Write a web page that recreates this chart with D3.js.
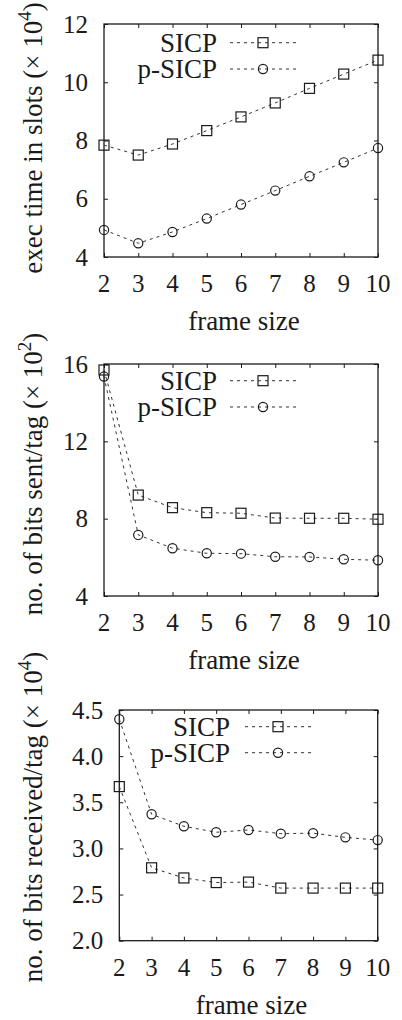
<!DOCTYPE html>
<html>
<head>
<meta charset="utf-8">
<script src="https://cdn.jsdelivr.net/npm/d3@7"></script>
</head>
<body style="margin:0">
<svg id="fig" width="402" height="1020"></svg>
<script>
// Frame sizes on the x axis (shared by all three panels)
const frameSizes = [2, 3, 4, 5, 6, 7, 8, 9, 10];
const seriesNames = ["SICP", "p-SICP"];

// Execution time in slots (x10^4)
const execSICP  = [7.84, 7.50, 7.88, 8.34, 8.81, 9.29, 9.79, 10.28, 10.76];
const execPSICP = [4.93, 4.47, 4.86, 5.32, 5.80, 6.28, 6.77, 7.25, 7.74];
const execTicks = [4, 6, 8, 10, 12];

// Bits sent per tag (x10^2)
const sentSICP  = [15.69, 9.22, 8.57, 8.31, 8.28, 8.03, 8.02, 8.02, 7.97];
const sentPSICP = [15.35, 7.16, 6.47, 6.21, 6.19, 6.03, 6.02, 5.90, 5.85];
const sentTicks = [4, 8, 12, 16];

// Bits received per tag (x10^4)
const recvSICP  = [3.67, 2.79, 2.68, 2.63, 2.635, 2.57, 2.57, 2.57, 2.57];
const recvPSICP = [4.40, 3.37, 3.24, 3.175, 3.20, 3.16, 3.165, 3.12, 3.09];
const recvTicks = [2.0, 2.5, 3.0, 3.5, 4.0, 4.5];

const svg = d3.select("#fig");

const panels = [
  { box: { l: 104, r: 378, t: 24, b: 257 }, ticks: execTicks, fmt: d3.format("d"),
    series: [execSICP, execPSICP], label: "exec time in slots ", exp: "4",
    labelY: 138, legend: { textX: 217, lineX0: 230, lineX1: 297, markX: 263, y0: 42.7, y1: 69 } },
  { box: { l: 104, r: 378, t: 364, b: 596 }, ticks: sentTicks, fmt: d3.format("d"),
    series: [sentSICP, sentPSICP], label: "no. of bits sent/tag ", exp: "2",
    labelY: 474, legend: { textX: 217, lineX0: 230, lineX1: 297, markX: 263, y0: 380.7, y1: 407 } },
  { box: { l: 119.3, r: 377.7, t: 710, b: 940.7 }, ticks: recvTicks, fmt: d3.format(".1f"),
    series: [recvSICP, recvPSICP], label: "no. of bits received/tag ", exp: "4",
    labelY: 817, legend: { textX: 230, lineX0: 245, lineX1: 312, markX: 278, y0: 726.7, y1: 752.7 } }
];

const ink = "#1a1a1a";
const lineInk = "#333";

function drawMarker(g, kind, x, y) {
  if (kind === 0) {
    g.append("rect").attr("x", x - 5).attr("y", y - 5).attr("width", 10).attr("height", 10)
      .attr("fill", "none").attr("stroke", ink).attr("stroke-width", 1.2);
  } else {
    g.append("circle").attr("cx", x).attr("cy", y).attr("r", 4.6)
      .attr("fill", "none").attr("stroke", ink).attr("stroke-width", 1.2);
  }
}

// serif text helper
function label(sel, size) {
  return sel.attr("font-family", "Liberation Serif")
    .style("font-family", `"Liberation Serif"`)
    .attr("font-size", size).attr("fill", ink);
}

panels.forEach(p => {
  const { l, r, t, b } = p.box;
  const x = d3.scaleLinear().domain([2, 10]).range([l, r]);
  const y = d3.scaleLinear().domain(d3.extent(p.ticks)).range([b, t]);
  const g = svg.append("g");

  // inward ticks on all four sides
  const tickLen = 4;
  const axes = [
    [d3.axisBottom(x).tickValues(frameSizes), `translate(0,${b})`],
    [d3.axisTop(x).tickValues(frameSizes), `translate(0,${t})`],
    [d3.axisLeft(y).tickValues(p.ticks), `translate(${l},0)`],
    [d3.axisRight(y).tickValues(p.ticks), `translate(${r},0)`]
  ];
  axes.forEach(([ax, tr]) => {
    const a = g.append("g").attr("transform", tr)
      .call(ax.tickSize(-tickLen).tickFormat(""));
    a.select(".domain").remove();
    a.selectAll(".tick text").remove();
    a.selectAll(".tick line").attr("stroke", ink).attr("stroke-width", 1);
  });

  // tick labels
  label(g.selectAll(".xl").data(frameSizes).join("text"), 25)
    .attr("x", d => x(d)).attr("y", b + 35)
    .attr("text-anchor", "middle")
    .text(d => d);
  label(g.selectAll(".yl").data(p.ticks).join("text"), 25)
    .attr("x", l - 16).attr("y", d => y(d) + 8.5)
    .attr("text-anchor", "end")
    .text(d => p.fmt(d));

  // border
  g.append("rect").attr("x", l).attr("y", t).attr("width", r - l).attr("height", b - t)
    .attr("fill", "none").attr("stroke", ink).attr("stroke-width", 1.3);

  // x-axis title
  label(g.append("text"), 27).attr("x", (l + r) / 2 + 3).attr("y", b + 73)
    .attr("text-anchor", "middle").text("frame size");

  // y-axis title with exponent
  const yt = label(g.append("text"), 27)
    .attr("transform", `translate(42,${p.labelY}) rotate(-90)`)
    .attr("text-anchor", "middle");
  yt.append("tspan").text(p.label + "(× 10");
  yt.append("tspan").attr("font-size", 19).attr("dy", -11).text(p.exp);
  yt.append("tspan").attr("dy", 11).text(")");

  // series lines and markers
  const line = d3.line().x((d, i) => x(frameSizes[i])).y(d => y(d));
  p.series.forEach((vals, k) => {
    g.append("path").datum(vals).attr("d", line)
      .attr("fill", "none").attr("stroke", lineInk).attr("stroke-width", 1)
      .attr("stroke-dasharray", "3,4");
    vals.forEach((v, i) => drawMarker(g, k, x(frameSizes[i]), y(v)));
  });

  // legend
  const L = p.legend;
  [L.y0, L.y1].forEach((ly, k) => {
    label(g.append("text"), 27).attr("x", L.textX).attr("y", ly + 9)
      .attr("text-anchor", "end").text(seriesNames[k]);
    g.append("line").attr("x1", L.lineX0).attr("x2", L.lineX1).attr("y1", ly).attr("y2", ly)
      .attr("stroke", lineInk).attr("stroke-width", 1).attr("stroke-dasharray", "3,4");
    drawMarker(g, k, L.markX, ly);
  });
});
</script>
</body>
</html>
